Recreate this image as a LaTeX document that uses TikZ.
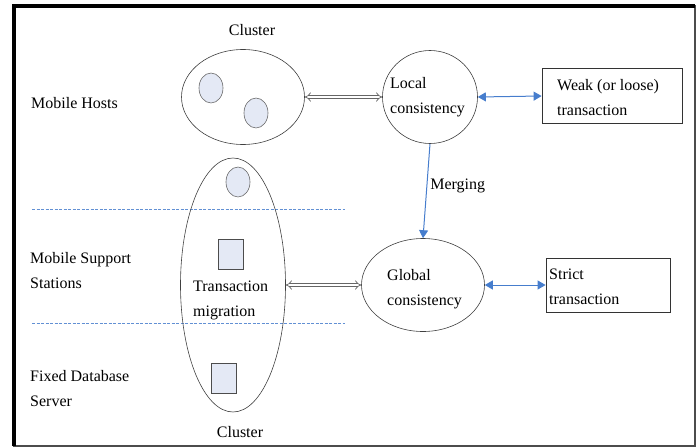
\documentclass[tikz,border=0pt]{standalone}
\usepackage{fontspec}
\setmainfont{Liberation Serif}
\usetikzlibrary{shapes.geometric,arrows.meta}
\definecolor{linkblue}{RGB}{70,125,205}
\definecolor{dotfill}{RGB}{228,233,245}
\begin{document}
\begin{tikzpicture}[x=1pt,y=-1pt,
  lbl/.style={font=\fontsize{16}{25}\selectfont,inner sep=0pt,align=left,anchor=west},
  clus/.style={draw=black!75,ellipse,line width=0.6pt,inner sep=0pt},
  dot/.style={draw=black!60,fill=dotfill,ellipse,minimum width=24pt,minimum height=30pt,inner sep=0pt,line width=0.6pt},
  sq/.style={draw=black!70,fill=dotfill,rectangle,minimum width=25pt,minimum height=30pt,inner sep=0pt,line width=0.6pt},
  tbox/.style={draw=black!80,rectangle,line width=0.8pt,inner sep=0pt},
  hollow/.style={draw=black!60,double=white,double distance=2.5pt,line width=0.7pt,{Implies[scale=1.4]}-{Implies[scale=1.4]}},
  blue/.style={draw=linkblue,line width=1pt,{Triangle[length=8pt,width=9pt]}-{Triangle[length=8pt,width=9pt]}},
  sep/.style={draw=linkblue!85,dash pattern=on 3pt off 1.5pt,line width=0.7pt}]
\useasboundingbox (0,0) rectangle (699,447);
% frame
\draw[black!70,line width=1.5pt] (14,6) rectangle (695,446);
\draw[black,line width=3.5pt] (14,446) -- (14,6) -- (695,6);

% separators
\coordinate (s1a) at (32,209); \coordinate (s1b) at (345,209);
\coordinate (s2a) at (32,323); \coordinate (s2b) at (345,323);
\draw[sep] (s1a) -- (s1b);
\draw[sep] (s2a) -- (s2b);

% row labels
\node[lbl] (mh) at (31,103) {Mobile Hosts};
\node[lbl] (mss) at (30,271) {Mobile Support\\Stations};
\node[lbl] (fds) at (30,389) {Fixed Database\\Server};

% top cluster
\node[clus,minimum width=123pt,minimum height=95pt] (topc) at (243,97) {};
\node[dot] (d1) at (211,88) {};
\node[dot] (d2) at (256,113) {};
\node[font=\fontsize{16}{25}\selectfont,inner sep=0pt] (ctop) at (252,30) {Cluster};

% tall cluster
\node[clus,minimum width=105pt,minimum height=254pt] (tall) at (233,285) {};
\node[dot] (d3) at (238,182) {};
\node[sq] (q1) at (231,254) {};
\node[sq] (q2) at (224,378) {};
\node[lbl] (tm) at (193,300) {Transaction\\migration};
\node[font=\fontsize{16}{25}\selectfont,inner sep=0pt] (cbot) at (240,432) {Cluster};

% consistency nodes
\node[clus,minimum width=95pt,minimum height=93pt] (local) at (430,97) {};
\node[lbl] (localt) at (390,97) {Local\\consistency};
\node[clus,minimum width=123pt,minimum height=93pt] (global) at (423,285) {};
\node[lbl] (globalt) at (387,289) {Global\\consistency};

% transaction boxes
\node[tbox,minimum width=140pt,minimum height=55pt] (weak) at (612,96) {};
\node[lbl] (weakt) at (557,98) {Weak (or loose)\\transaction};
\node[tbox,minimum width=124pt,minimum height=54pt] (strict) at (608,285) {};
\node[lbl] (strictt) at (549,287) {Strict\\transaction};

% connectors
\draw[hollow] (topc.east) -- (local.west);
\draw[hollow] (tall.east) -- (global.west);
\draw[blue] (local.east) -- (weak.west);
\draw[blue] (global.east) -- (strict.west |- global.east);
\draw[draw=linkblue,line width=1pt,-{Triangle[length=8pt,width=9pt]}] (local.south) -- (global.north)
  node[pos=0.45,right=3pt,font=\fontsize{16}{25}\selectfont,inner sep=0pt] (merg) {Merging};
\end{tikzpicture}
\end{document}
